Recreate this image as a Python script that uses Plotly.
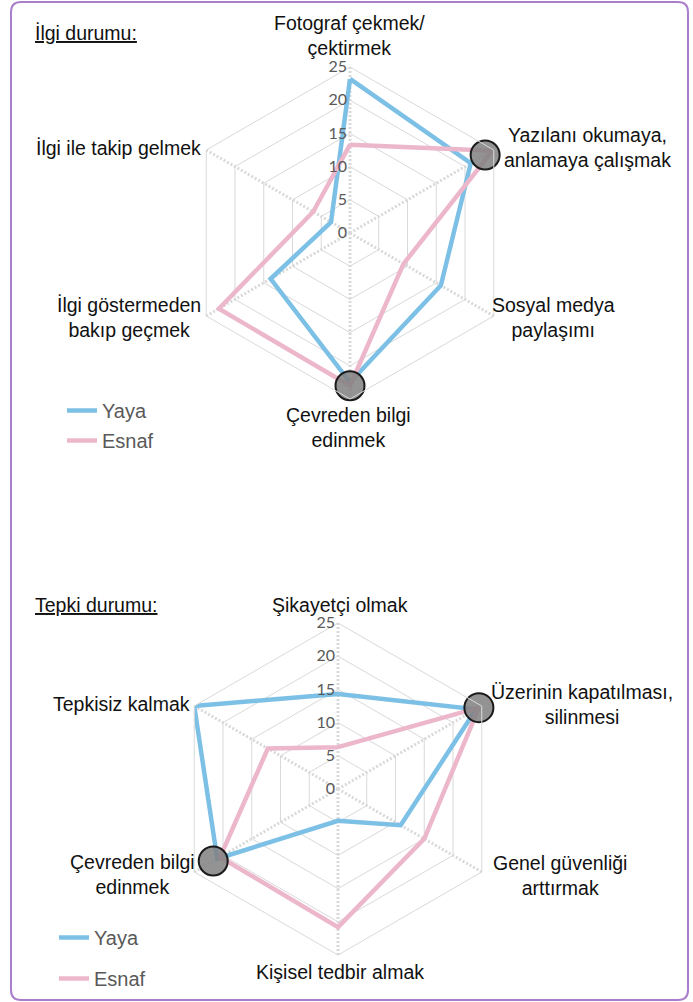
import plotly.graph_objects as go

# ── Data ──────────────────────────────────────────────────────────────────────
ILGI_CATS = ["Fotograf çekmek/ çektirmek", "Yazılanı okumaya, anlamaya çalışmak",
             "Sosyal medya paylaşımı", "Çevreden bilgi edinmek",
             "İlgi göstermeden bakıp geçmek", "İlgi ile takip gelmek"]
ILGI_YAYA = [23.2, 21.0, 15.8, 22.5, 13.8, 3.3]
ILGI_ESNAF = [13.3, 24.8, 9.3, 23.0, 22.8, 6.4]
ILGI_HIGHLIGHT_CATS = ["Yazılanı okumaya, anlamaya çalışmak", "Çevreden bilgi edinmek"]
ILGI_HIGHLIGHT_R = [23.5, 23.0]

TEPKI_CATS = ["Şikayetçi olmak", "Üzerinin kapatılması, silinmesi",
              "Genel güvenliği arttırmak", "Kişisel tedbir almak",
              "Çevreden bilgi edinmek", "Tepkisiz kalmak"]
TEPKI_YAYA = [14.3, 24.0, 10.9, 4.8, 21.0, 25.0]
TEPKI_ESNAF = [6.3, 24.5, 15.0, 20.8, 20.5, 12.2]
TEPKI_HIGHLIGHT_CATS = ["Üzerinin kapatılması, silinmesi", "Çevreden bilgi edinmek"]
TEPKI_HIGHLIGHT_R = [24.5, 21.7]

RADIAL_TICKS = [0, 5, 10, 15, 20, 25]

# ── Style ─────────────────────────────────────────────────────────────────────
W, H = 693, 1002
BLUE = "#7DC0E6"
PINK = "#EDB7CB"
GRID = "#D9D9D9"
BORDER = "#A97FCB"
FONT = "Liberation Sans, Arial, sans-serif"
LABEL_FONT = dict(family=FONT, size=19.5, color="#111111")
TICK_FONT = dict(family="Lato, sans-serif", size=16, color="#595959")


def px_x(x):
    return x / W


def px_y(y):
    return 1 - y / H


def polar_layout(cx, cy, r):
    return dict(
        domain=dict(x=[px_x(cx - r), px_x(cx + r)], y=[px_y(cy + r), px_y(cy - r)]),
        gridshape="linear",
        bgcolor="rgba(0,0,0,0)",
        angularaxis=dict(rotation=90, direction="clockwise", showticklabels=False,
                         ticks="", gridcolor=GRID, gridwidth=3, griddash="2px,2px",
                         linecolor=GRID, linewidth=1),
        radialaxis=dict(range=[0, 25], tickvals=RADIAL_TICKS, angle=90, tickangle=90,
                        side="counterclockwise", showline=False, ticks="",
                        gridcolor=GRID, gridwidth=1, tickfont=TICK_FONT),
    )


def closed(vals):
    return list(vals) + [vals[0]]


fig = go.Figure()

for cats, yaya, esnaf, hcats, hr, polar, legend in [
    (ILGI_CATS, ILGI_YAYA, ILGI_ESNAF, ILGI_HIGHLIGHT_CATS, ILGI_HIGHLIGHT_R, "polar", "legend"),
    (TEPKI_CATS, TEPKI_YAYA, TEPKI_ESNAF, TEPKI_HIGHLIGHT_CATS, TEPKI_HIGHLIGHT_R, "polar2", "legend2"),
]:
    fig.add_trace(go.Scatterpolar(
        r=closed(yaya), theta=closed(cats), mode="lines", name="Yaya",
        line=dict(color=BLUE, width=4.5), subplot=polar, legend=legend,
        legendgroup=polar + "y",
    ))
    fig.add_trace(go.Scatterpolar(
        r=closed(esnaf), theta=closed(cats), mode="lines", name="Esnaf",
        line=dict(color=PINK, width=4.5), subplot=polar, legend=legend,
        legendgroup=polar + "e",
    ))
    fig.add_trace(go.Scatterpolar(
        r=hr, theta=hcats, mode="markers", showlegend=False,
        marker=dict(size=29, color="rgba(128,128,128,0.85)",
                    line=dict(color="#1A1A1A", width=2)),
        subplot=polar,
    ))

# ── Axis labels (placed by hand like the original) ────────────────────────────
labels = [
    ("Fotograf çekmek/<br>çektirmek", 349, 35),
    ("Yazılanı okumaya,<br>anlamaya çalışmak", 587, 147),
    ("Sosyal medya<br>paylaşımı", 553, 317),
    ("Çevreden bilgi<br>edinmek", 348, 427),
    ("İlgi göstermeden<br>bakıp geçmek", 129, 317),
    ("İlgi ile takip gelmek", 118, 148),
    ("Şikayetçi olmak", 340, 605),
    ("Üzerinin kapatılması,<br>silinmesi", 582, 704),
    ("Genel güvenliği<br>arttırmak", 560, 875),
    ("Kişisel tedbir almak", 340, 972),
    ("Çevreden bilgi<br>edinmek", 132, 874),
    ("Tepkisiz kalmak", 121, 704),
]
annotations = [
    dict(text=t, x=px_x(x), y=px_y(y), xref="paper", yref="paper",
         xanchor="center", yanchor="middle", showarrow=False, font=LABEL_FONT,
         align="center")
    for t, x, y in labels
]
annotations += [
    dict(text="<u>İlgi durumu:</u>", x=px_x(33), y=px_y(33), xref="paper", yref="paper",
         xanchor="left", yanchor="middle", showarrow=False,
         font=dict(family=FONT, size=19.5, color="#111111")),
    dict(text="<u>Tepki durumu:</u>", x=px_x(33), y=px_y(605), xref="paper", yref="paper",
         xanchor="left", yanchor="middle", showarrow=False,
         font=dict(family=FONT, size=19.5, color="#111111")),
]

# rounded purple frame
x0, x1, y0, y1, rr = px_x(11), px_x(688), px_y(2), px_y(1000), 10
rx, ry = rr / W, rr / H
frame = (f"M {x0 + rx},{y0} L {x1 - rx},{y0} Q {x1},{y0} {x1},{y0 - ry} "
         f"L {x1},{y1 + ry} Q {x1},{y1} {x1 - rx},{y1} L {x0 + rx},{y1} "
         f"Q {x0},{y1} {x0},{y1 + ry} L {x0},{y0 - ry} Q {x0},{y0} {x0 + rx},{y0} Z")

legend_style = dict(font=dict(family=FONT, size=20, color="#595959"),
                    bgcolor="rgba(0,0,0,0)", traceorder="grouped", xanchor="left",
                    yanchor="top")

fig.update_layout(
    width=W, height=H,
    margin=dict(l=0, r=0, t=0, b=0),
    paper_bgcolor="white",
    polar=polar_layout(350, 233, 166),
    polar2=polar_layout(338, 789, 166),
    legend=dict(x=px_x(62), y=px_y(391), tracegroupgap=1, **legend_style),
    legend2=dict(x=px_x(54), y=px_y(918), tracegroupgap=12, **legend_style),
    annotations=annotations,
    shapes=[dict(type="path", path=frame, xref="paper", yref="paper",
                 line=dict(color=BORDER, width=2))],
)

fig.write_html("out.html", config={"displayModeBar": False},
               post_script="document.body.style.margin = '0px';")
